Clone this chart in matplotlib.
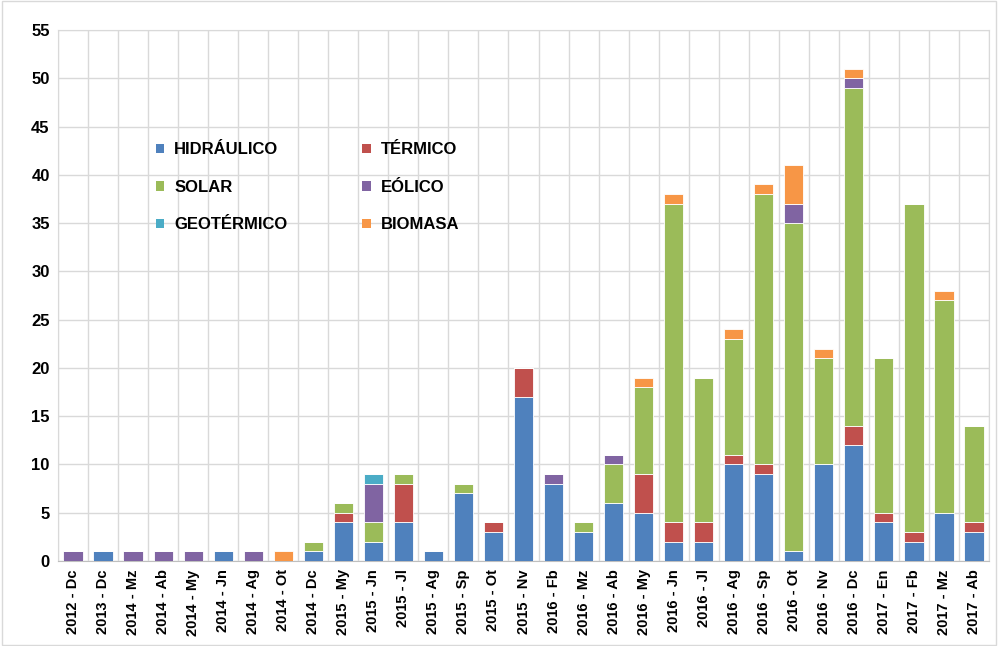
import numpy as np
import matplotlib
matplotlib.use("Agg")
from matplotlib import pyplot as plt

plt.rcParams['font.family'] = ['Liberation Sans', 'DejaVu Sans']

## data
periods = ['2012 - Dc', '2013 - Dc', '2014 - Mz', '2014 - Ab', '2014 - My', '2014 - Jn',
           '2014 - Ag', '2014 - Ot', '2014 - Dc', '2015 - My', '2015 - Jn', '2015 - Jl',
           '2015 - Ag', '2015 - Sp', '2015 - Ot', '2015 - Nv', '2016 - Fb', '2016 - Mz',
           '2016 - Ab', '2016 - My', '2016 - Jn', '2016 - Jl', '2016 - Ag', '2016 - Sp',
           '2016 - Ot', '2016 - Nv', '2016 - Dc', '2017 - En', '2017 - Fb', '2017 - Mz',
           '2017 - Ab']

hidraulico = [0, 1, 0, 0, 0, 1, 0, 0, 1, 4, 2, 4, 1, 7, 3, 17, 8, 3, 6, 5, 2, 2, 10, 9, 1, 10, 12, 4, 2, 5, 3]
termico    = [0, 0, 0, 0, 0, 0, 0, 0, 0, 1, 0, 4, 0, 0, 1, 3, 0, 0, 0, 4, 2, 2, 1, 1, 0, 0, 2, 1, 1, 0, 1]
solar      = [0, 0, 0, 0, 0, 0, 0, 0, 1, 1, 2, 1, 0, 1, 0, 0, 0, 1, 4, 9, 33, 15, 12, 28, 34, 11, 35, 16, 34, 22, 10]
eolico     = [1, 0, 1, 1, 1, 0, 1, 0, 0, 0, 4, 0, 0, 0, 0, 0, 1, 0, 1, 0, 0, 0, 0, 0, 2, 0, 1, 0, 0, 0, 0]
geotermico = [0, 0, 0, 0, 0, 0, 0, 0, 0, 0, 1, 0, 0, 0, 0, 0, 0, 0, 0, 0, 0, 0, 0, 0, 0, 0, 0, 0, 0, 0, 0]
biomasa    = [0, 0, 0, 0, 0, 0, 0, 1, 0, 0, 0, 0, 0, 0, 0, 0, 0, 0, 0, 1, 1, 0, 1, 1, 4, 1, 1, 0, 0, 1, 0]

series = [('HIDRÁULICO', hidraulico, '#4F81BD'),
          ('TÉRMICO', termico, '#C0504D'),
          ('SOLAR', solar, '#9BBB59'),
          ('EÓLICO', eolico, '#8064A2'),
          ('GEOTÉRMICO', geotermico, '#4BACC6'),
          ('BIOMASA', biomasa, '#F79646')]

fig = plt.figure(figsize=(9.98, 6.46), dpi=100)
ax = fig.add_axes([58 / 998, 1 - 561 / 646, (989 - 58) / 998, (561 - 30) / 646])

x = np.arange(len(periods))
bottom = np.zeros(len(periods))
handles = {}
for name, vals, col in series:
    vals = np.array(vals, dtype=float)
    b = ax.bar(x, vals, 0.64, bottom=bottom, color=col, label=name,
               edgecolor='white', linewidth=0.6, zorder=3)
    handles[name] = b
    bottom += vals

ax.set_xlim(-0.5, len(periods) - 0.5)
ax.set_ylim(0, 55)
ax.set_yticks(np.arange(0, 56, 5))
ax.set_xticks(x)
ax.set_xticklabels(periods, rotation=90, fontsize=10.5, fontweight='bold')
for lbl in ax.get_yticklabels():
    lbl.set_fontweight('bold')
    lbl.set_fontsize(12)

# excel style grid: horizontal lines + category separators
ax.set_xticks(np.arange(-0.5, len(periods), 1), minor=True)
ax.grid(axis='y', which='major', color='#D9D9D9', linewidth=1, zorder=0)
ax.grid(axis='x', which='minor', color='#D9D9D9', linewidth=1, zorder=0)
ax.tick_params(axis='both', which='both', length=0, pad=6)
for s in ['top', 'right', 'left']:
    ax.spines[s].set_color('#D9D9D9')
ax.spines['bottom'].set_color('#BFBFBF')

order = ['HIDRÁULICO', 'SOLAR', 'GEOTÉRMICO', 'TÉRMICO', 'EÓLICO', 'BIOMASA']
leg = ax.legend([handles[n] for n in order], order, ncol=2, loc='upper left',
                bbox_to_anchor=(0.089, 0.817), frameon=False,
                prop={'weight': 'bold', 'size': 12}, handlelength=0.5, handleheight=0.5,
                labelspacing=1.35, columnspacing=4.5, handletextpad=0.6)
for h in leg.legend_handles:
    h.set_edgecolor('none')

# light frame around the whole chart
fig.patches.append(plt.Rectangle((0.002, 0.002), 0.996, 0.996, transform=fig.transFigure,
                                 fill=False, edgecolor='#D9D9D9', linewidth=1))

plt.savefig('out.png', dpi=100)
